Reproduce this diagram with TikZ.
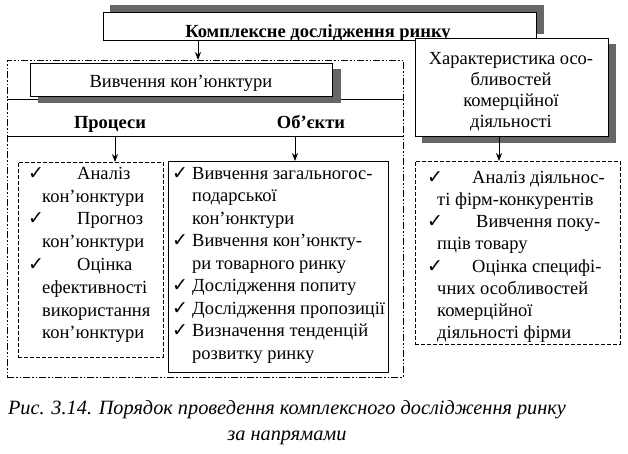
\documentclass[tikz,border=0pt]{standalone}
\usepackage{fontspec}
\setmainfont{Liberation Serif}
\newfontfamily\symf{DejaVu Sans}
\usetikzlibrary{arrows.meta,calc}
\newcommand\chk{{\symf\fontsize{19}{16}\selectfont ✓}}
\begin{document}
\begin{tikzpicture}[x=1pt,y=-1pt,
  font=\fontsize{18.5}{22.5}\selectfont,
  bx/.style={draw, line width=0.9pt, fill=white, inner sep=0, anchor=north west},
  shd/.style={fill=black!60},
  arr/.style={-{Stealth[length=8pt,width=6pt]}, line width=0.8pt},
  dsh/.style={draw, line width=0.8pt, dash pattern=on 4pt off 2pt, inner sep=0, anchor=north west},
  ddot/.style={draw, line width=0.8pt, dash pattern=on 7pt off 2pt on 1.5pt off 2pt on 1.5pt off 2pt, inner sep=0, anchor=north west},
  lst/.style={anchor=north west, align=left, inner sep=0},
  hdr/.style={font=\bfseries\fontsize{18.5}{22.5}\selectfont, anchor=base, inner sep=0}]
\useasboundingbox (0,0) rectangle (628,453);
% container
\node[ddot, minimum width=396pt, minimum height=317pt] (cont) at (7,60) {};
\coordinate (l1) at (0,99);
\coordinate (l2) at (0,136);
\draw[line width=0.8pt] (cont.west |- l1) -- (cont.east |- l1);
\draw[line width=0.8pt] (cont.west |- l2) -- (cont.east |- l2);
% Вивчення кон'юнктури
\node[bx, draw=none, fill=none, minimum width=302pt, minimum height=33pt] (viv0) at (30,63) {};
\fill[shd] ($(viv0.south west)+(8,6)$) rectangle ($(viv0.north east)+(8,6)$);
\node[bx, minimum width=302pt, minimum height=33pt] (viv) at (30,63) {};
\node[anchor=base, inner sep=0] (vivt) at (181,87) {Вивчення кон’юнктури};
% top box
\node[bx, draw=none, fill=none, minimum width=433pt, minimum height=28pt] (top0) at (103,12) {};
\fill[shd] ($(top0.south west)+(7,-7)$) rectangle ($(top0.north east)+(7,-7)$);
\node[bx, minimum width=433pt, minimum height=28pt] (top) at (103,12) {};
\node[hdr] (toptxt) at (318,37) {Комплексне дослідження ринку};
% characteristic box
\node[bx, draw=none, fill=none, minimum width=193pt, minimum height=98pt] (char0) at (415,38) {};
\fill[shd] ($(char0.south west)+(7,6)$) rectangle ($(char0.north east)+(7,6)$);
\node[bx, minimum width=193pt, minimum height=98pt] (char) at (415,38) {};
\node[align=center, inner sep=0, font=\fontsize{18.5}{21}\selectfont] (chart) at (511,92) {Характеристика осо-\\бливостей\\комерційної\\діяльності};
% headers
\node[hdr] (proch) at (110,128) {Процеси};
\node[hdr] (objh) at (311,128) {Об’єкти};
% lower boxes
\node[dsh, minimum width=145pt, minimum height=195pt] (proc) at (18,162) {};
\node[bx, fill=none, line width=0.8pt, minimum width=220pt, minimum height=211pt] (obj) at (168,161) {};
\node[dsh, minimum width=205pt, minimum height=183pt] (rbox) at (415,161) {};
% arrows
\coordinate (a1) at (198,0);
\coordinate (a2) at (115,0);
\coordinate (a3) at (295,0);
\coordinate (a4) at (499,0);
\draw[arr] (top.south -| a1) -- (cont.north -| a1);
\draw[arr] (l2 -| a2) -- (proc.north -| a2);
\draw[arr] (l2 -| a3) -- (obj.north -| a3);
\draw[arr] (char.south -| a4) -- (rbox.north -| a4);
% lists
\node[lst, font=\fontsize{18.5}{22.8}\selectfont] (proct) at (28,164) {\rule{0pt}{15pt}\makebox[49pt][l]{\chk}Аналіз\\
\hspace*{14pt}кон’юнктури\\
\makebox[49pt][l]{\chk}Прогноз\\
\hspace*{14pt}кон’юнктури\\
\makebox[49pt][l]{\chk}Оцінка\\
\hspace*{14pt}ефективності\\
\hspace*{14pt}використання\\
\hspace*{14pt}кон’юнктури};
\node[lst, font=\fontsize{18.5}{22.5}\selectfont] (objt) at (172,164) {\rule{0pt}{15pt}\makebox[20pt][l]{\chk}Вивчення загальногос-\\
\hspace*{20pt}подарської\\
\hspace*{20pt}кон’юнктури\\
\makebox[20pt][l]{\chk}Вивчення кон’юнкту-\\
\hspace*{20pt}ри товарного ринку\\
\makebox[20pt][l]{\chk}Дослідження попиту\\
\makebox[20pt][l]{\chk}Дослідження пропозиції\\
\makebox[20pt][l]{\chk}Визначення тенденцій\\
\hspace*{20pt}розвитку ринку};
\node[lst, font=\fontsize{18.5}{22.2}\selectfont] (rt) at (427,168) {\rule{0pt}{15pt}\makebox[45pt][l]{\chk}Аналіз діяльнос-\\
\hspace*{10pt}ті фірм-конкурентів\\
\makebox[49pt][l]{\chk}Вивчення поку-\\
\hspace*{10pt}пців товару\\
\makebox[45pt][l]{\chk}Оцінка специфі-\\
\hspace*{10pt}чних особливостей\\
\hspace*{10pt}комерційної\\
\hspace*{10pt}діяльності фірми};
% caption
\node[font=\itshape\fontsize{20.3}{26}\selectfont, align=center] (cap) at (287,423) {Рис. 3.14. Порядок проведення комплексного дослідження ринку\\за напрямами};
\end{tikzpicture}
\end{document}
